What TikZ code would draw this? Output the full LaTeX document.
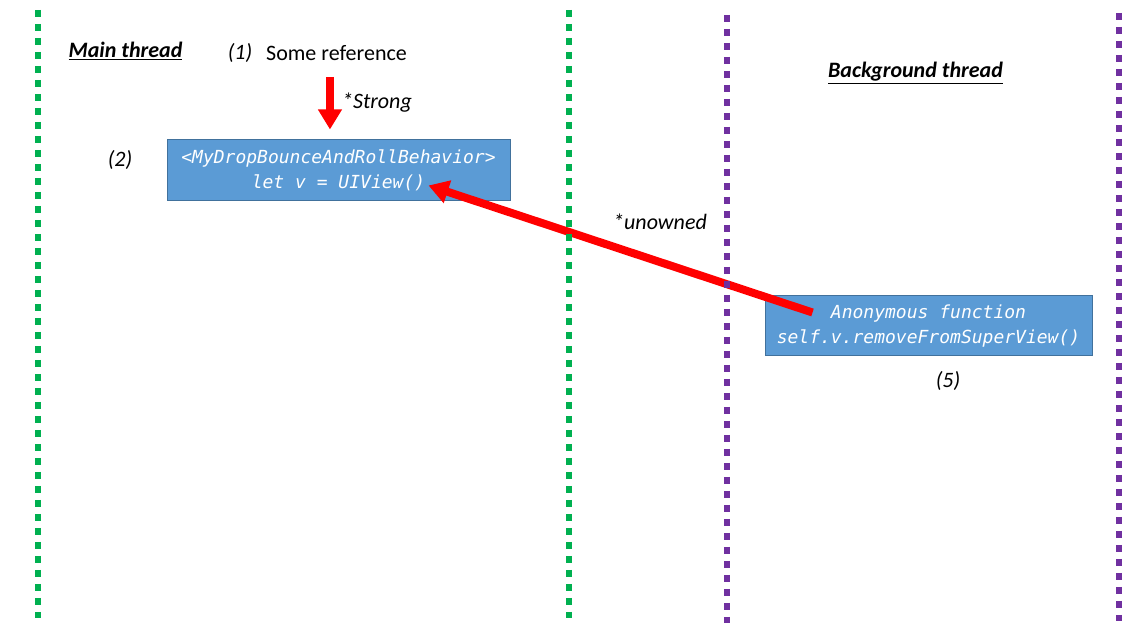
\documentclass[tikz,border=0pt]{standalone}
\usepackage{fontspec}
\setmainfont{Carlito}
\newfontfamily\codefont{DejaVu Sans Mono}
\usetikzlibrary{arrows.meta,calc}
\definecolor{tgreen}{HTML}{00B050}
\definecolor{tpurple}{HTML}{7030A0}
\definecolor{tred}{HTML}{FF0000}
\definecolor{boxfill}{HTML}{5B9BD5}
\definecolor{boxline}{HTML}{41719C}
\begin{document}
\begin{tikzpicture}[x=0.75pt,y=-0.75pt,
  lane/.style={line width=4.5pt, dash pattern=on 5.25pt off 5.25pt},
  lbl/.style={inner sep=0pt, font=\fontsize{16.5}{19}\selectfont},
  codebox/.style={draw=boxline, line width=0.75pt, fill=boxfill, text=white, align=center, inner sep=0pt,
    font=\codefont\itshape\fontsize{13.5}{18.5}\selectfont},
  refarrow/.style={draw=tred, line width=6pt, -{Triangle[width=17pt,length=15pt]}}
]
\useasboundingbox (0,0) rectangle (1129,641);
\fill[white] (0,0) rectangle (1129,641);

% texts
\node[lbl] (mainlbl) at (125.5,51) {\textbf{\textit{\underline{Main thread}}}};
\node[lbl] (n1) at (240,53) {\textit{(1)}};
\node[lbl] (ref) at (336.5,53) {Some reference};
\node[lbl] (strong) at (377,103) {\textit{*Strong}};
\node[lbl] (n2) at (120,160) {\textit{(2)}};
\node[lbl] (unowned) at (660,222) {\textit{*unowned}};
\node[lbl] (bglbl) at (915.5,73) {\textbf{\textit{\underline{Background thread}}}};
\node[lbl] (n5) at (948,381) {\textit{(5)}};

% boxes
\node[codebox, minimum width=257.25pt, minimum height=45.75pt] (box1) at (338.5,170.5)
  {<MyDropBounceAndRollBehavior>\\let v = UIView()};
\node[codebox, minimum width=245.25pt, minimum height=45pt] (box2) at (928.5,326)
  {Anonymous function\\self.v.removeFromSuperView()};

% arrows
\draw[refarrow] ([xshift=-4.9pt,yshift=-12pt]ref.south) -- ([xshift=-6.4pt,yshift=7.5pt]box1.north);
\coordinate (ustart) at ($(box2.north west)+(48,17)$);
\coordinate (uend) at ($(box1.south east)+(-82,-16)$);
\draw[refarrow] (ustart) -- (uend);

% lanes
\draw[lane, tgreen] (38,10) -- (38,618);
\draw[lane, tgreen] (569,10) -- (569,618);
\draw[lane, tpurple] (727,15) -- (727,623);
\draw[lane, tpurple] (1119,13) -- (1119,621);
\end{tikzpicture}
\end{document}
